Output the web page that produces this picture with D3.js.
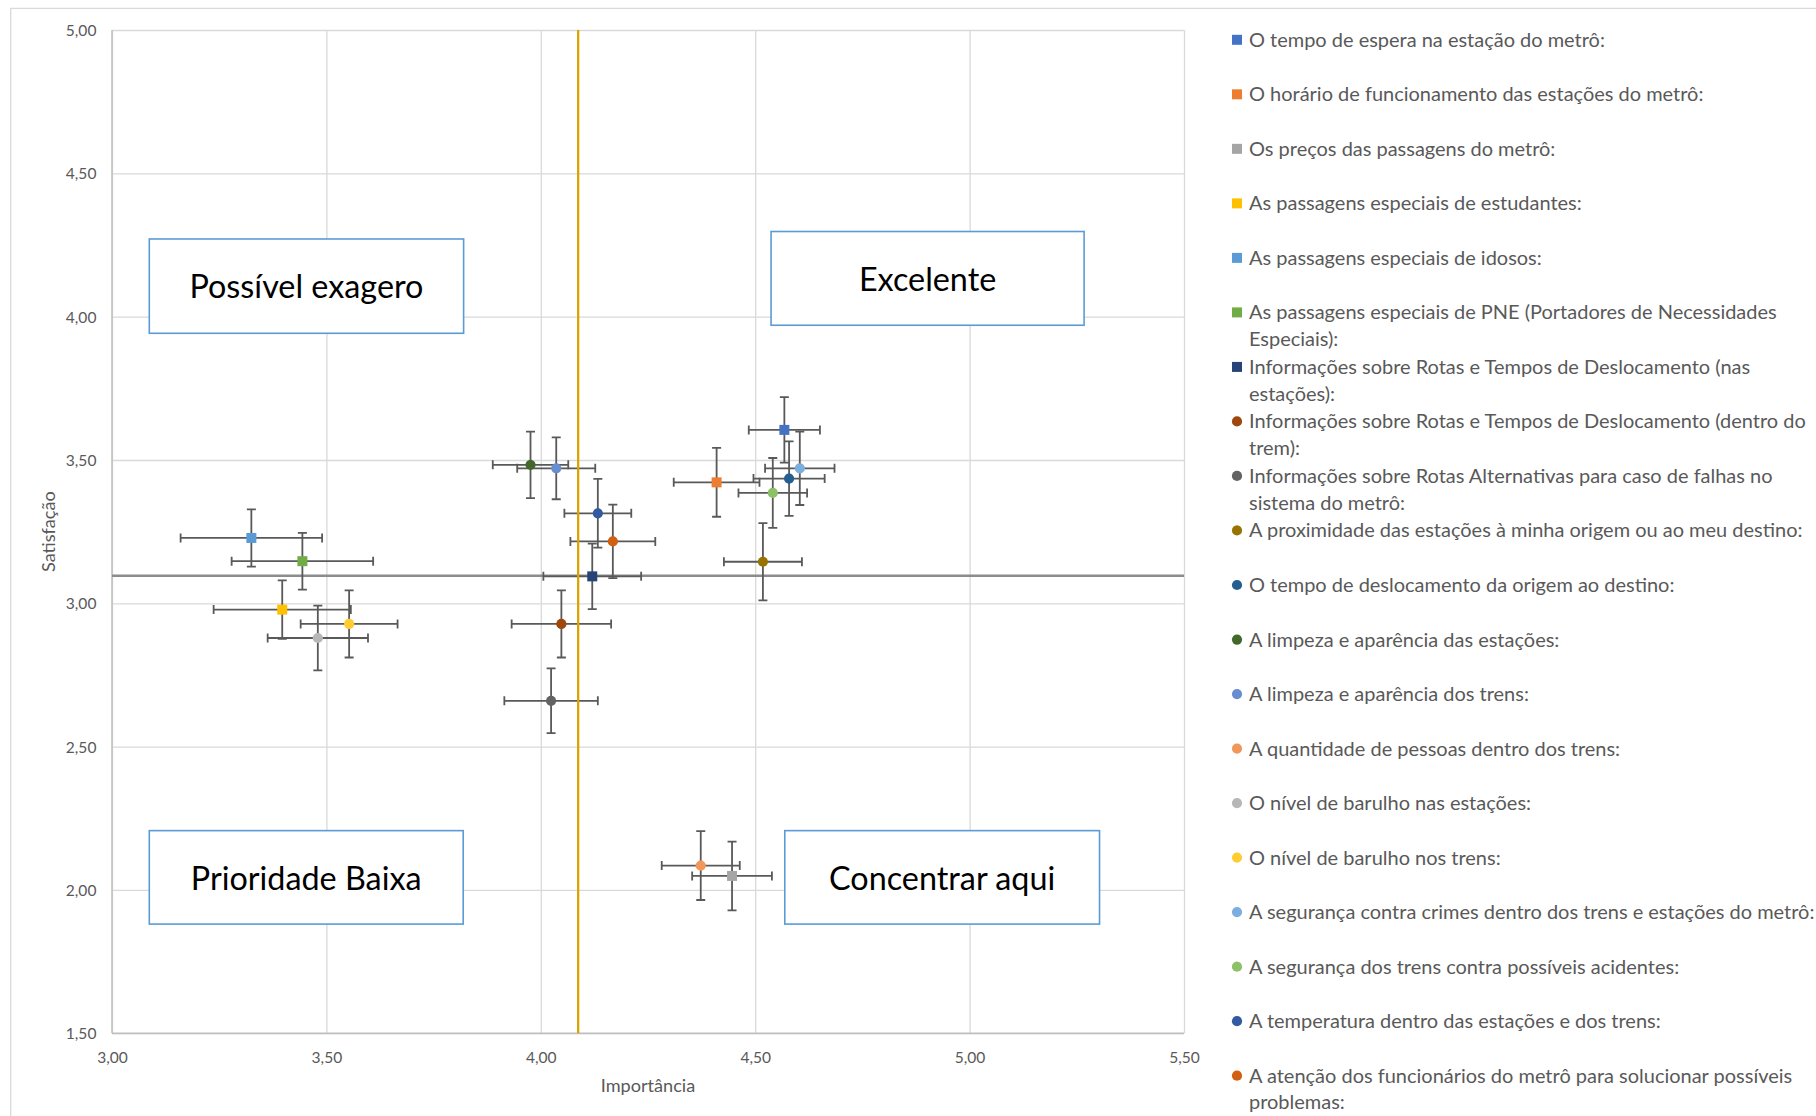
<!DOCTYPE html>
<html>
<head>
<meta charset="utf-8">
<script src="https://cdn.jsdelivr.net/npm/d3@7"></script>
<style>
  html, body { margin: 0; padding: 0; background: #fff; }
  svg { display: block; }
</style>
</head>
<body>
<svg id="chart" width="1816" height="1116"></svg>
<script>
// ---------------- DATA ----------------
const labels = [
  "O tempo de espera na estação do metrô:",
  "O horário de funcionamento das estações do metrô:",
  "Os preços das passagens do metrô:",
  "As passagens especiais de estudantes:",
  "As passagens especiais de idosos:",
  "As passagens especiais de PNE (Portadores de Necessidades\nEspeciais):",
  "Informações sobre Rotas e Tempos de Deslocamento (nas\nestações):",
  "Informações sobre Rotas e Tempos de Deslocamento (dentro do\ntrem):",
  "Informações sobre Rotas Alternativas para caso de falhas no\nsistema do metrô:",
  "A proximidade das estações à minha origem ou ao meu destino:",
  "O tempo de deslocamento da origem ao destino:",
  "A limpeza e aparência das estações:",
  "A limpeza e aparência dos trens:",
  "A quantidade de pessoas dentro dos trens:",
  "O nível de barulho nas estações:",
  "O nível de barulho nos trens:",
  "A segurança contra crimes dentro dos trens e estações do metrô:",
  "A segurança dos trens contra possíveis acidentes:",
  "A temperatura dentro das estações e dos trens:",
  "A atenção dos funcionários do metrô para solucionar possíveis\nproblemas:"
];
const importancia = [4.568, 4.410, 4.446, 3.397, 3.325, 3.444, 4.120, 4.048, 4.024, 4.518,
                     4.579, 3.976, 4.036, 4.373, 3.480, 3.553, 4.604, 4.541, 4.133, 4.168];
const satisfacao  = [3.605, 3.422, 2.049, 2.978, 3.228, 3.147, 3.094, 2.928, 2.660, 3.145,
                     3.435, 3.483, 3.471, 2.085, 2.879, 2.928, 3.471, 3.385, 3.314, 3.216];
const erroImportancia = [0.083, 0.100, 0.093, 0.160, 0.165, 0.165, 0.114, 0.116, 0.109, 0.091,
                         0.083, 0.088, 0.091, 0.091, 0.117, 0.113, 0.081, 0.080, 0.078, 0.099];
const erroSatisfacao  = [0.114, 0.120, 0.120, 0.102, 0.100, 0.099, 0.114, 0.117, 0.113, 0.135,
                         0.130, 0.116, 0.108, 0.120, 0.113, 0.117, 0.128, 0.122, 0.120, 0.128];
const markerShapes = ["square","square","square","square","square","square","square",
                      "circle","circle","circle","circle","circle","circle","circle",
                      "circle","circle","circle","circle","circle","circle"];
const xTickValues = [3.0, 3.5, 4.0, 4.5, 5.0, 5.5];
const yTickValues = [1.5, 2.0, 2.5, 3.0, 3.5, 4.0, 4.5, 5.0];
const xAxisTitle = "Importância";
const yAxisTitle = "Satisfação";
const quadrantTexts = ["Possível exagero", "Excelente", "Prioridade Baixa", "Concentrar aqui"];

// ---------------- STYLE / LAYOUT ----------------
const colors = ["#4472C4","#ED7D31","#A5A5A5","#FFC000","#5B9BD5","#70AD47","#264478",
                "#9E480E","#636363","#997300","#255E91","#43682B","#698ED0","#F1975A",
                "#B7B7B7","#FFCD33","#7CAFDD","#8CC168","#335AA1","#D26012"];
const FONT = "Lato, 'Open Sans', sans-serif";
const plot = { left: 112, right: 1184, top: 30, bottom: 1033.3 };
// annotation boxes in data coordinates [x0, x1, yTop, yBottom]
const quadrantBoxes = [
  [3.087, 3.820, 4.271, 3.942],
  [4.537, 5.267, 4.297, 3.970],
  [3.087, 3.819, 2.207, 1.881],
  [4.569, 5.303, 2.207, 1.881]
];

const svg = d3.select("#chart");
svg.append("rect").attr("width", 1816).attr("height", 1116).attr("fill", "#fff");

// font size calibration helper (fit measured width)
const measurer = svg.append("text").attr("font-family", FONT).attr("font-size", 100)
  .attr("x", -5000).attr("y", -5000);
function fit(text, target) {
  measurer.text(text);
  const w = measurer.node().getComputedTextLength();
  return 100 * target / w;
}
const tickSize = fit("5,00", 30.6);
const legendSize = fit("O tempo de espera na estação do metrô:", 356);
const titleSize = fit("Importância", 94.5);
const boxSize = fit("Possível exagero", 234);
measurer.remove();

// outer chart border
svg.append("path")
  .attr("d", "M10.7,1116 L10.7,8.3 L1816,8.3")
  .attr("fill", "none").attr("stroke", "#d9d9d9").attr("stroke-width", 1.3);

const x = d3.scaleLinear().domain([3, 5.5]).range([plot.left, plot.right]);
const y = d3.scaleLinear().domain([1.5, 5]).range([plot.bottom, plot.top]);
const loc = d3.formatLocale({ decimal: ",", thousands: ".", grouping: [3], currency: ["R$", ""] });
const fmt = loc.format(".2f");

// axes + grid
const gx = svg.append("g").attr("transform", `translate(0,${plot.bottom})`)
  .call(d3.axisBottom(x).tickValues(xTickValues).tickFormat(fmt)
        .tickSizeInner(-(plot.bottom - plot.top)).tickSizeOuter(0));
const gy = svg.append("g").attr("transform", `translate(${plot.left},0)`)
  .call(d3.axisLeft(y).tickValues(yTickValues).tickFormat(fmt)
        .tickSizeInner(-(plot.right - plot.left)).tickSizeOuter(0).tickPadding(15.6));
[gx, gy].forEach(g => {
  g.select(".domain").remove();
  g.selectAll(".tick line").attr("stroke", "#d9d9d9").attr("stroke-width", 1.3);
  g.selectAll(".tick text").attr("fill", "#595959")
    .attr("font-family", FONT).attr("font-size", tickSize);
});
gx.selectAll(".tick text").attr("y", 24).attr("dy", "0.35em");
gy.selectAll(".tick text").attr("dy", "0.35em");
// axis lines
svg.append("line").attr("x1", plot.left).attr("x2", plot.left)
  .attr("y1", plot.top).attr("y2", plot.bottom).attr("stroke", "#bfbfbf").attr("stroke-width", 1.5);
svg.append("line").attr("x1", plot.left).attr("x2", plot.right)
  .attr("y1", plot.bottom).attr("y2", plot.bottom).attr("stroke", "#bfbfbf").attr("stroke-width", 1.5);

// axis titles
svg.append("text").attr("x", (plot.left + plot.right) / 2).attr("y", 1086)
  .attr("dy", "0.35em").attr("text-anchor", "middle")
  .attr("font-family", FONT).attr("font-size", titleSize).attr("fill", "#595959").text(xAxisTitle);
svg.append("text").attr("transform", `translate(49,${(plot.top + plot.bottom) / 2}) rotate(-90)`)
  .attr("dy", "0.35em").attr("text-anchor", "middle")
  .attr("font-family", FONT).attr("font-size", titleSize).attr("fill", "#595959").text(yAxisTitle);

// mean reference lines
const meanX = d3.mean(importancia);
const meanY = d3.mean(satisfacao);
svg.append("line").attr("x1", x(3)).attr("x2", x(5.5)).attr("y1", y(meanY)).attr("y2", y(meanY))
  .attr("stroke", "#8c8c8c").attr("stroke-width", 2.5);

// error bars
const idx = d3.range(labels.length);
const cap = 4.5;
const eb = svg.append("g").attr("stroke", "#595959").attr("stroke-width", 1.8).attr("fill", "none");
idx.forEach(i => {
  const cx = x(importancia[i]), cy = y(satisfacao[i]);
  const x0 = x(importancia[i] - erroImportancia[i]), x1 = x(importancia[i] + erroImportancia[i]);
  const y0 = y(satisfacao[i] + erroSatisfacao[i]), y1 = y(satisfacao[i] - erroSatisfacao[i]);
  eb.append("path").attr("d",
    `M${x0},${cy}H${x1}M${x0},${cy - cap}V${cy + cap}M${x1},${cy - cap}V${cy + cap}` +
    `M${cx},${y0}V${y1}M${cx - cap},${y0}H${cx + cap}M${cx - cap},${y1}H${cx + cap}`);
});

svg.append("line").attr("x1", x(meanX)).attr("x2", x(meanX)).attr("y1", y(5)).attr("y2", y(1.5))
  .attr("stroke", "#D9A300").attr("stroke-width", 2.3);

// markers
const sym = s => d3.symbol().type(s === "square" ? d3.symbolSquare : d3.symbolCircle)
  .size(s === "square" ? 100 : 82)();
svg.append("g").selectAll("path").data(idx).join("path")
  .attr("transform", i => `translate(${x(importancia[i])},${y(satisfacao[i])})`)
  .attr("d", i => sym(markerShapes[i]))
  .attr("fill", i => colors[i]);

// quadrant annotation boxes
quadrantBoxes.forEach((b, k) => {
  const bx0 = x(b[0]), bx1 = x(b[1]), by0 = y(b[2]), by1 = y(b[3]);
  svg.append("rect").attr("x", bx0).attr("y", by0).attr("width", bx1 - bx0).attr("height", by1 - by0)
    .attr("fill", "#fff").attr("stroke", "#5B9BD5").attr("stroke-width", 1.6);
  svg.append("text").attr("x", (bx0 + bx1) / 2).attr("y", (by0 + by1) / 2 + 1)
    .attr("dy", "0.35em").attr("text-anchor", "middle")
    .attr("font-family", FONT).attr("font-size", boxSize).attr("fill", "#000")
    .text(quadrantTexts[k]);
});

// legend
const legend = { markerX: 1237, textX: 1249, top: 39.8, step: 54.52, lineGap: 26.6 };
const lg = svg.append("g");
idx.forEach(i => {
  const yy = legend.top + i * legend.step;
  lg.append("path").attr("transform", `translate(${legend.markerX},${yy})`)
    .attr("d", sym(markerShapes[i]))
    .attr("fill", colors[i]);
  const t = lg.append("text").attr("font-family", FONT).attr("font-size", legendSize).attr("fill", "#595959");
  labels[i].split("\n").forEach((line, j) => {
    t.append("tspan").attr("x", legend.textX).attr("y", yy + j * legend.lineGap)
      .attr("dy", "0.35em").text(line);
  });
});
</script>
</body>
</html>
